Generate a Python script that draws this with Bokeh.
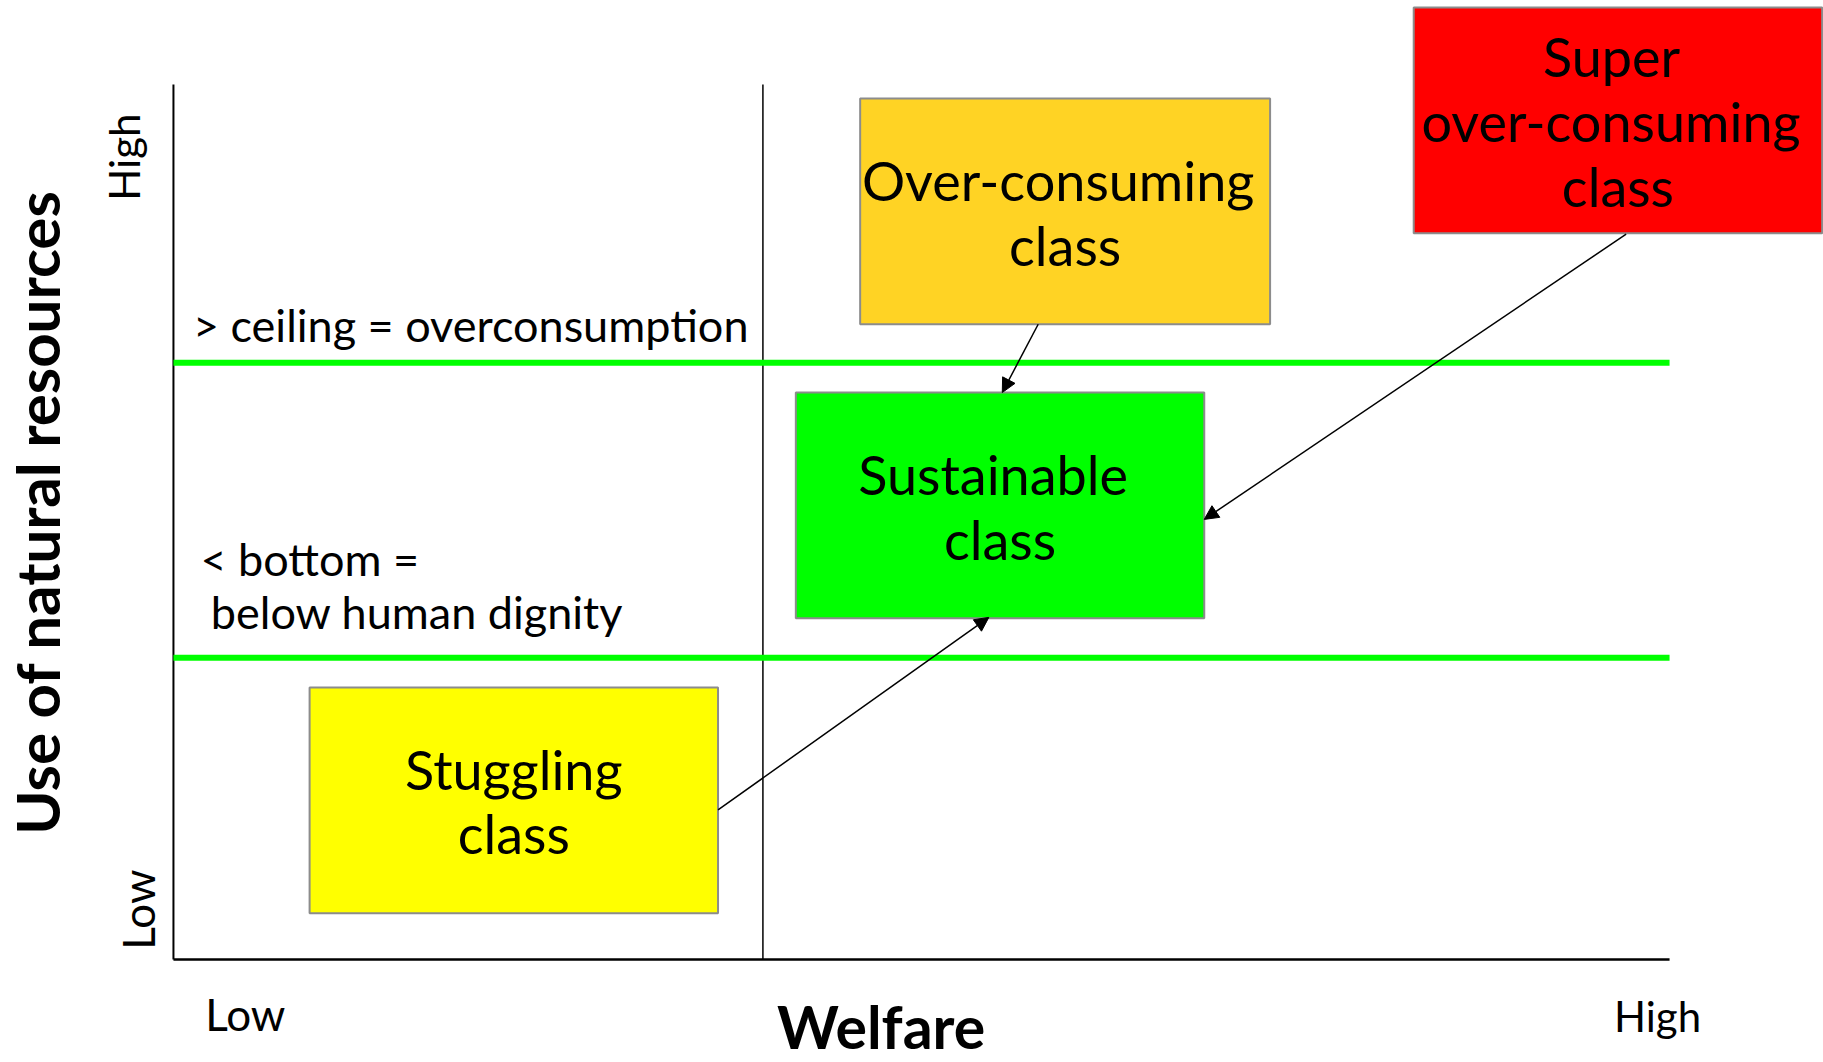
import math
from bokeh.plotting import figure
from bokeh.models import Range1d, Label, Arrow, NormalHead, ColumnDataSource
from bokeh.embed import file_html
from bokeh.resources import INLINE

# ---- data (conceptual units: welfare 0..100, use of resources 0..100) ----
classes = ["Stuggling class", "Sustainable class", "Over-consuming class", "Super over-consuming class"]
box_left = [9.1, 41.6, 45.9, 82.9]
box_right = [36.4, 68.9, 73.3, 110.2]
box_bottom = [5.3, 39.0, 72.6, 83.0]
box_top = [31.1, 64.8, 98.4, 108.8]
box_text = [["Stuggling", "class"], ["Sustainable\u00a0", "class"],
            ["Over-consuming\u00a0", "class"], ["Super\u00a0", "over-consuming\u00a0", "class"]]
box_colors = ["#FFFF00", "#00FF00", "#FFD324", "#FF0000"]

ceiling = 68.2
bottom = 34.5
welfare_split = 39.4

arrow_x_start = [57.8, 97.1, 36.4]
arrow_y_start = [72.6, 82.9, 17.1]
arrow_x_end = [55.4, 68.9, 54.5]
arrow_y_end = [64.8, 50.3, 39.1]

ceiling_label = "> ceiling = overconsumption"
bottom_label = ["< bottom =", "below human dignity"]
x_title = "Welfare"
y_title = "Use of natural resources"
tick_low, tick_high = "Low", "High"

FONT = "Lato"
INK = "black"

p = figure(width=1823, height=1062, x_range=Range1d(-11.56, 110.29), y_range=Range1d(-11.77, 109.6),
           x_axis_type=None, y_axis_type=None, toolbar_location=None, output_backend="svg",
           min_border=0, outline_line_color=None, background_fill_color="white", border_fill_color="white")
p.xgrid.visible = False
p.ygrid.visible = False

# axes
p.line([0, 0], [0, 100], line_color="black", line_width=2)
p.line([0, 100], [0, 0], line_color="black", line_width=2.5)
p.line([welfare_split, welfare_split], [0, 100], line_color="black", line_width=1.5)

# ceiling / bottom lines
p.line([0, 100], [ceiling, ceiling], line_color="#00FF00", line_width=6)
p.line([0, 100], [bottom, bottom], line_color="#00FF00", line_width=6)

# boxes
src = ColumnDataSource(dict(left=box_left, right=box_right, bottom=box_bottom, top=box_top, color=box_colors))
p.quad(left="left", right="right", bottom="bottom", top="top", fill_color="color",
       line_color="#8c8c8c", line_width=2, source=src)

# box texts
spacing = 7.4
for l, r, b, t, lines in zip(box_left, box_right, box_bottom, box_top, box_text):
    cx = (l + r) / 2
    cy = (b + t) / 2 - 0.15
    n = len(lines)
    for i, s in enumerate(lines):
        y = cy + (n - 1) / 2 * spacing - i * spacing
        p.add_layout(Label(x=cx, y=y, text=s, text_align="center", text_baseline="middle",
                           text_font=FONT, text_font_size="54px", text_color=INK))

# arrows
for xs, ys, xe, ye in zip(arrow_x_start, arrow_y_start, arrow_x_end, arrow_y_end):
    p.add_layout(Arrow(x_start=xs, y_start=ys, x_end=xe, y_end=ye, line_color="black", line_width=1.5,
                       end=NormalHead(size=14, fill_color="black", line_color="black", line_width=1)))

# annotations
p.add_layout(Label(x=1.3, y=72.5, text=ceiling_label, text_align="left", text_baseline="middle",
                   text_font=FONT, text_font_size="45px", text_color=INK))
p.add_layout(Label(x=1.8, y=45.8, text=bottom_label[0], text_align="left", text_baseline="middle",
                   text_font=FONT, text_font_size="45px", text_color=INK))
p.add_layout(Label(x=2.5, y=39.7, text=bottom_label[1], text_align="left", text_baseline="middle",
                   text_font=FONT, text_font_size="45px", text_color=INK))

# axis titles & tick words
p.add_layout(Label(x=-9.1, y=51.1, text=y_title, angle=math.pi / 2, text_align="center", text_baseline="middle",
                   text_font=FONT, text_font_size="60px", text_font_style="bold", text_color=INK))
p.add_layout(Label(x=47.3, y=-7.6, text=x_title, text_align="center", text_baseline="middle",
                   text_font=FONT, text_font_size="59px", text_font_style="bold", text_color=INK))
p.add_layout(Label(x=-3.3, y=91.7, text=tick_high, angle=math.pi / 2, text_align="center", text_baseline="middle",
                   text_font=FONT, text_font_size="42px", text_color=INK))
p.add_layout(Label(x=-2.4, y=5.7, text=tick_low, angle=math.pi / 2, text_align="center", text_baseline="middle",
                   text_font=FONT, text_font_size="44px", text_color=INK))
p.add_layout(Label(x=4.8, y=-6.2, text=tick_low, text_align="center", text_baseline="middle",
                   text_font=FONT, text_font_size="44px", text_color=INK))
p.add_layout(Label(x=99.2, y=-6.5, text=tick_high, text_align="center", text_baseline="middle",
                   text_font=FONT, text_font_size="42px", text_color=INK))

open("out.html", "w").write(file_html(p, INLINE))
